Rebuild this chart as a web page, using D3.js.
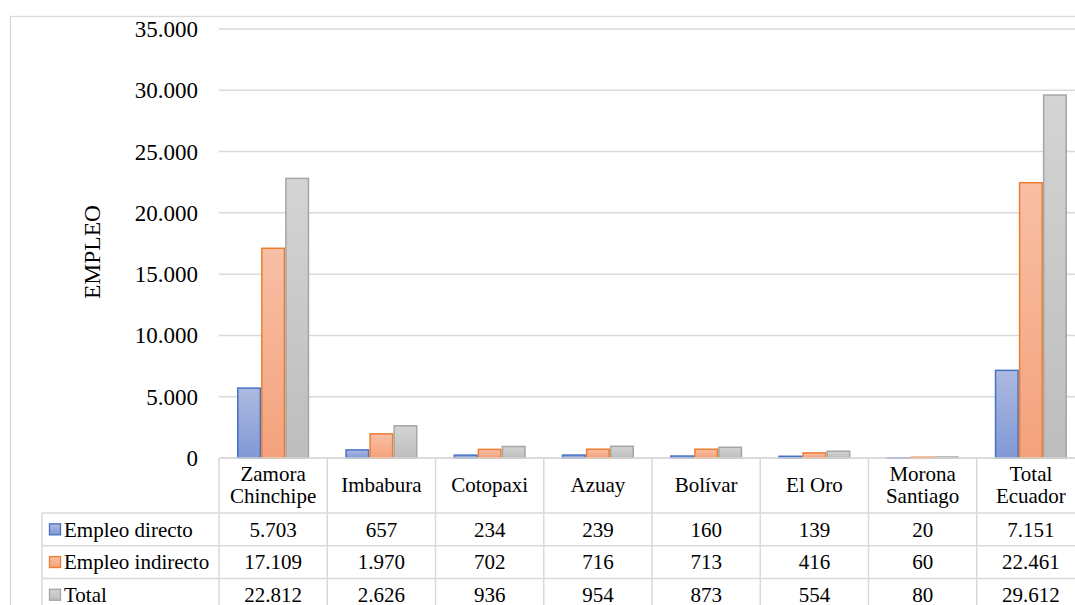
<!DOCTYPE html>
<html>
<head>
<meta charset="utf-8">
<script src="https://cdn.jsdelivr.net/npm/d3@7"></script>
<style>
  body { margin: 0; background: #fff; }
  svg { display: block; font-family: "Liberation Serif", "Times New Roman", serif; }
</style>
</head>
<body>
<div id="chart"></div>
<script>
// data
var categories = ['Zamora Chinchipe', 'Imbabura', 'Cotopaxi', 'Azuay', 'Bolívar', 'El Oro', 'Morona Santiago', 'Total Ecuador'];
var categoryLines = [['Zamora', 'Chinchipe'], ['Imbabura'], ['Cotopaxi'], ['Azuay'], ['Bolívar'], ['El Oro'], ['Morona', 'Santiago'], ['Total', 'Ecuador']];
var seriesNames = ['Empleo directo', 'Empleo indirecto', 'Total'];
var empleoDirecto = [5703, 657, 234, 239, 160, 139, 20, 7151];
var empleoIndirecto = [17109, 1970, 702, 716, 713, 416, 60, 22461];
var empleoTotal = [22812, 2626, 936, 954, 873, 554, 80, 29612];
var yTicks = [0, 5000, 10000, 15000, 20000, 25000, 30000, 35000];
var yLabel = 'EMPLEO';

var seriesValues = [empleoDirecto, empleoIndirecto, empleoTotal];

// colours: top of gradient, bottom of gradient, border
var seriesColors = [
  {top: '#adbae0', bottom: '#8198d5', stroke: '#4472c4'},
  {top: '#f8bfa5', bottom: '#f4a27c', stroke: '#ed7d31'},
  {top: '#d4d4d4', bottom: '#bdbdbd', stroke: '#a5a5a5'}
];

var W = 1075, H = 605;
var plotLeft = 219, plotRight = 1085, plotTop = 29, baseY = 458;
var headerH = 55, rowH = 32.7, legendLeft = 42;
var gridColor = '#d9d9d9';

// dot as thousands separator
var locale = d3.formatLocale({decimal: ',', thousands: '.', grouping: [3], currency: ['$', '']});
var fmt = locale.format(',d');

var svg = d3
  .select('#chart')
  .append('svg')
  .attr('width', W)
  .attr('height', H);

// gradients for the bars
var defs = svg.append('defs');
seriesColors.forEach(function (c, i) {
  var g = defs.append('linearGradient')
    .attr('id', 'grad' + i)
    .attr('x1', 0).attr('y1', 0).attr('x2', 0).attr('y2', 1);
  g.append('stop').attr('offset', '0%').attr('stop-color', c.top);
  g.append('stop').attr('offset', '100%').attr('stop-color', c.bottom);
});

// outer chart frame
svg.append('rect')
  .attr('x', 10.5).attr('y', 16.5)
  .attr('width', 1200).attr('height', 800)
  .style('fill', 'none')
  .style('stroke', gridColor)
  .style('stroke-width', 1.3);

// scales
var x = d3.scaleBand().domain(categories).range([plotLeft, plotRight]).padding(0);
var xs = d3.scaleBand().domain(seriesNames).range([0, x.bandwidth()]).paddingInner(0).paddingOuter(0.75);
var y = d3.scaleLinear().domain([0, 35000]).range([baseY, plotTop]);

// gridlines
svg.append('g')
  .selectAll('line')
  .data(yTicks)
  .enter()
  .append('line')
  .attr('x1', plotLeft)
  .attr('x2', plotRight)
  .attr('y1', function (d) { return y(d); })
  .attr('y2', function (d) { return y(d); })
  .style('stroke', gridColor)
  .style('stroke-width', 1.5);

// y axis tick labels
svg.append('g')
  .selectAll('text')
  .data(yTicks)
  .enter()
  .append('text')
  .attr('x', 198)
  .attr('y', function (d) { return y(d); })
  .attr('dy', '0.35em')
  .style('text-anchor', 'end')
  .style('font-size', '23px')
  .style('fill', '#000')
  .text(function (d) { return fmt(d); });

// axis title
svg.append('text')
  .attr('transform', 'translate(100,252) rotate(-90)')
  .style('text-anchor', 'middle')
  .style('font-size', '23.5px')
  .text(yLabel);

// bars
var groups = svg.append('g')
  .selectAll('g')
  .data(seriesNames)
  .enter()
  .append('g');

groups.selectAll('rect')
  .data(function (s, si) {
    return categories.map(function (c, ci) {
      return {series: s, si: si, cat: c, value: seriesValues[si][ci]};
    });
  })
  .enter()
  .append('rect')
  .attr('x', function (d) { return x(d.cat) + xs(d.series) + 0.75; })
  .attr('width', xs.bandwidth() - 1.5)
  .attr('y', function (d) { return y(d.value); })
  .attr('height', function (d) { return baseY - y(d.value); })
  .style('fill', function (d) { return 'url(#grad' + d.si + ')'; })
  .style('stroke', function (d) { return seriesColors[d.si].stroke; })
  .style('stroke-width', 1.5);

// data table
var table = svg.append('g');
var tableBottom = baseY + headerH + rowH * seriesNames.length;

// horizontal lines
table.append('line')
  .attr('x1', plotLeft).attr('x2', plotRight)
  .attr('y1', baseY).attr('y2', baseY)
  .style('stroke', gridColor).style('stroke-width', 1.5);
for (var r = 0; r <= seriesNames.length; r++) {
  var ly = baseY + headerH + r * rowH;
  table.append('line')
    .attr('x1', legendLeft).attr('x2', plotRight)
    .attr('y1', ly).attr('y2', ly)
    .style('stroke', gridColor).style('stroke-width', 1.5);
}

// vertical lines
categories.forEach(function (c) {
  table.append('line')
    .attr('x1', x(c)).attr('x2', x(c))
    .attr('y1', baseY).attr('y2', tableBottom)
    .style('stroke', gridColor).style('stroke-width', 1.5);
});
table.append('line')
  .attr('x1', legendLeft).attr('x2', legendLeft)
  .attr('y1', baseY + headerH).attr('y2', tableBottom)
  .style('stroke', gridColor).style('stroke-width', 1.5);

// category header labels
categories.forEach(function (c, ci) {
  var lines = categoryLines[ci];
  var cx = x(c) + x.bandwidth() / 2;
  lines.forEach(function (t, li) {
    var ty = lines.length == 1 ? baseY + 34 : baseY + 23 + li * 22;
    table.append('text')
      .attr('x', cx)
      .attr('y', ty)
      .style('text-anchor', 'middle')
      .style('font-size', '21px')
      .text(t);
  });
});

// legend keys + values
seriesNames.forEach(function (s, si) {
  var rowTop = baseY + headerH + si * rowH;
  table.append('rect')
    .attr('x', 49.5).attr('y', rowTop + rowH / 2 - 5.5)
    .attr('width', 11).attr('height', 11)
    .style('fill', 'url(#grad' + si + ')')
    .style('stroke', seriesColors[si].stroke)
    .style('stroke-width', 1.3);
  table.append('text')
    .attr('x', 64)
    .attr('y', rowTop + 23.5)
    .style('font-size', '21px')
    .text(s);
  categories.forEach(function (c, ci) {
    table.append('text')
      .attr('x', x(c) + x.bandwidth() / 2)
      .attr('y', rowTop + 23.5)
      .style('text-anchor', 'middle')
      .style('font-size', '21px')
      .text(fmt(seriesValues[si][ci]));
  });
});
</script>
</body>
</html>
